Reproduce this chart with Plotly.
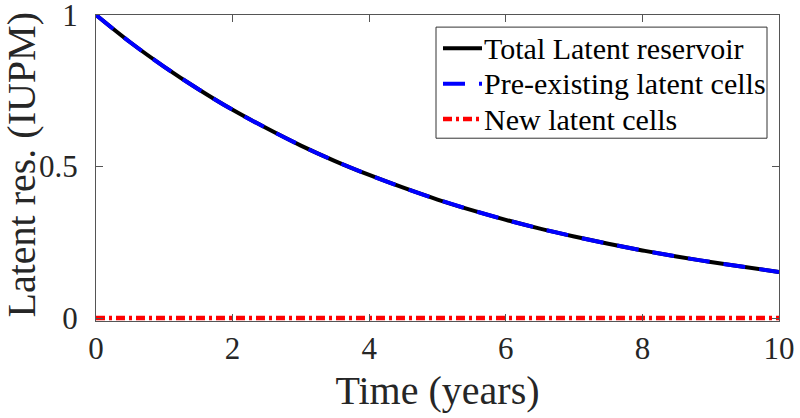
import plotly.graph_objects as go

# Time (years)
time_years = [0, 0.5, 1, 1.5, 2, 2.5, 3, 3.5, 4, 4.5, 5, 5.5, 6, 6.5, 7, 7.5, 8, 8.5, 9, 9.5, 10]
# Latent reservoir values (IUPM)
total_latent = [1.0, 0.910, 0.829, 0.755, 0.687, 0.626, 0.569, 0.518, 0.472, 0.430, 0.391,
                0.356, 0.324, 0.295, 0.269, 0.245, 0.223, 0.203, 0.185, 0.168, 0.152]
pre_existing = [1.0, 0.910, 0.829, 0.755, 0.687, 0.626, 0.569, 0.518, 0.472, 0.430, 0.391,
                0.356, 0.324, 0.295, 0.269, 0.245, 0.223, 0.203, 0.185, 0.168, 0.152]
new_latent = [0.0] * len(time_years)

series_names = ["Total Latent reservoir", "Pre-existing latent cells", "New latent cells"]
x_ticks = [0, 2, 4, 6, 8, 10]
y_ticks = [0, 0.5, 1]
y_tick_text = ["0", "0.5", "1"]
x_title = "Time (years)"
y_title = "Latent res. (IUPM)"

FONT = "Liberation Serif"
TXT = "#262626"
AX = "#555555"

styles = [
    dict(color="black", width=4),
    dict(color="#0000ff", width=4, dash="22px,14px"),
    dict(color="#ff0000", width=4.5, dash="9px,4px,3px,4px"),
]

fig = go.Figure()
fig.add_trace(go.Scatter(x=time_years, y=total_latent, mode="lines", name=series_names[0],
                         line=dict(**styles[0], shape="spline"), showlegend=False))
fig.add_trace(go.Scatter(x=time_years, y=pre_existing, mode="lines", name=series_names[1],
                         line=dict(**styles[1], shape="spline"), showlegend=False))
fig.add_trace(go.Scatter(x=time_years, y=new_latent, mode="lines", name=series_names[2],
                         line=dict(**styles[2]), showlegend=False))

# Target plot area in window pixels
L, R, T, B = 96, 779, 15, 318


def px_x(p):
    return (p - L) / (R - L)


def px_y(p):
    return (B - p) / (B - T)


shapes = [dict(type="rect", xref="paper", yref="paper", x0=px_x(436), x1=px_x(767),
               y0=px_y(137), y1=px_y(27), line=dict(color="#333333", width=1),
               fillcolor="white", layer="above")]
annotations = []
rows = [48, 83, 118]
for name, st, ry in zip(series_names, styles, rows):
    shapes.append(dict(type="line", xref="paper", yref="paper", x0=px_x(443), x1=px_x(482),
                       y0=px_y(ry), y1=px_y(ry), line=dict(color=st["color"], width=st["width"],
                                                           dash=st.get("dash", "solid")),
                       layer="above"))
    annotations.append(dict(xref="paper", yref="paper", x=px_x(482), y=px_y(ry), text=name,
                            showarrow=False, xanchor="left", yanchor="middle",
                            font=dict(family=FONT, size=30, color="black")))

# y-axis title placed as a rotated annotation
annotations.append(dict(xref="paper", yref="paper", x=px_x(21), y=px_y(164), text=y_title,
                        showarrow=False, xanchor="center", yanchor="middle", textangle=-90,
                        font=dict(family=FONT, size=40, color=TXT)))

fig.update_layout(
    width=800, height=418,
    margin=dict(l=L, r=800 - R, t=T, b=418 - B - 3),
    paper_bgcolor="white", plot_bgcolor="white",
    font=dict(family=FONT, color=TXT, size=31),
    showlegend=False,
    shapes=shapes,
    annotations=annotations,
)
fig.update_xaxes(range=[0, 10], tickvals=x_ticks, ticks="inside", ticklen=7, tickcolor=AX,
                 showline=True, linecolor=AX, linewidth=1, mirror="ticks", showgrid=False,
                 zeroline=False, tickfont=dict(size=31, family=FONT, color=TXT),
                 ticklabelstandoff=0, automargin=False, ticklabeloverflow="allow",
                 title=dict(text=x_title, font=dict(size=40, family=FONT, color=TXT), standoff=10))
fig.update_yaxes(range=[-0.0099, 1], tickvals=y_ticks, ticktext=y_tick_text, ticks="inside", ticklen=7,
                 tickcolor=AX, showline=True, linecolor=AX, linewidth=1, mirror="ticks",
                 showgrid=False, zeroline=False, tickfont=dict(size=31, family=FONT, color=TXT),
                 ticklabelstandoff=11, automargin=False, ticklabeloverflow="allow")

fig.write_html("out.html", config={"displayModeBar": False},
               post_script="document.body.style.margin='0px';")
